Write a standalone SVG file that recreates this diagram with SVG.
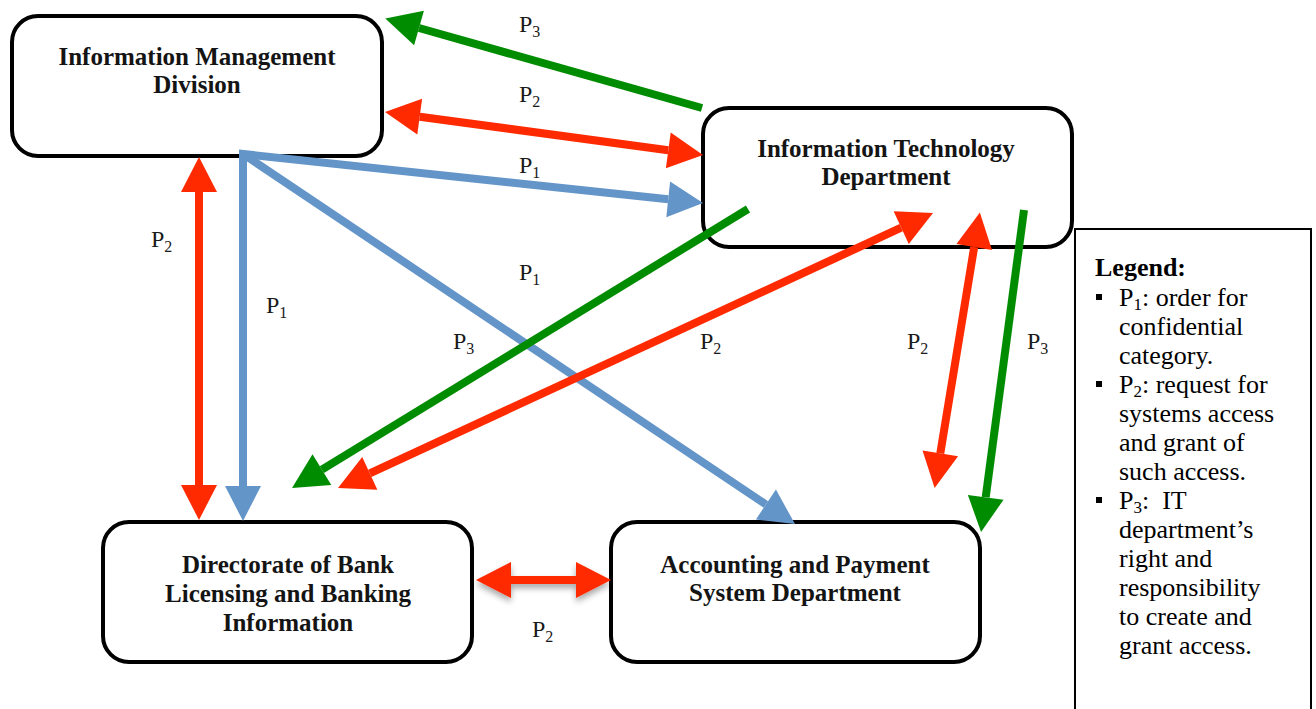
<svg xmlns="http://www.w3.org/2000/svg" width="1316" height="709" viewBox="0 0 1316 709">
<style>
.box{fill:#fff;stroke:#000;stroke-width:4}
.nt{font-family:"Liberation Serif","Times New Roman",serif;font-weight:bold;font-size:25px;fill:#141414;text-anchor:middle}
.lb{font-family:"Liberation Serif","Times New Roman",serif;font-size:24px;fill:#1a1a1a}
.sub{font-size:16px}
.lg{font-family:"Liberation Serif","Times New Roman",serif;font-size:26px;fill:#000}
.lsub{font-size:17px}
.b{stroke:#6495c9;stroke-width:8;fill:none}
.r{stroke:#ff2a00;stroke-width:8;fill:none}
.g{stroke:#008c00;stroke-width:8;fill:none}
</style>
<defs>
<marker id="hb" markerUnits="userSpaceOnUse" markerWidth="36" markerHeight="36" refX="0" refY="18" orient="auto-start-reverse" overflow="visible"><path d="M0,0 L35,18 L0,36 z" fill="#6495c9"/></marker>
<marker id="hr" markerUnits="userSpaceOnUse" markerWidth="36" markerHeight="36" refX="0" refY="18" orient="auto-start-reverse" overflow="visible"><path d="M0,0 L35,18 L0,36 z" fill="#ff2a00"/></marker>
<marker id="hg" markerUnits="userSpaceOnUse" markerWidth="36" markerHeight="36" refX="0" refY="18" orient="auto-start-reverse" overflow="visible"><path d="M0,0 L35,18 L0,36 z" fill="#008c00"/></marker>
<filter id="sh" filterUnits="userSpaceOnUse" x="440" y="540" width="200" height="90"><feDropShadow dx="0" dy="4" stdDeviation="3" flood-color="#000" flood-opacity="0.35"/></filter>
</defs>
<rect width="1316" height="709" fill="#fff"/>

<g id="imd">
<rect class="box" x="12" y="16" width="370" height="140" rx="26"/>
<text class="nt" x="197" y="65">Information Management</text>
<text class="nt" x="197" y="93">Division</text>
</g>
<g id="itd">
<rect class="box" x="703" y="108" width="369" height="139" rx="26"/>
<text class="nt" x="886" y="157">Information Technology</text>
<text class="nt" x="886" y="185">Department</text>
</g>
<g id="dbl">
<rect class="box" x="103" y="522" width="369" height="140" rx="26"/>
<text class="nt" x="288" y="573">Directorate of Bank</text>
<text class="nt" x="288" y="602">Licensing and Banking</text>
<text class="nt" x="288" y="631">Information</text>
</g>
<g id="aps">
<rect class="box" x="611" y="522" width="369" height="140" rx="26"/>
<text class="nt" x="795" y="573">Accounting and Payment</text>
<text class="nt" x="795" y="601">System Department</text>
</g>

<g id="connectors">
<path class="g" d="M702,108 L419,28" marker-end="url(#hg)"/>
<path class="r" d="M419.7,116.7 L668.3,150.3" marker-start="url(#hr)" marker-end="url(#hr)"/>
<path class="b" d="M668.2,199.3 L243,154 L243,486" stroke-linejoin="miter" marker-start="url(#hb)" marker-end="url(#hb)"/>
<path class="b" d="M243,154 L765.9,504.5" marker-end="url(#hb)"/>
<path class="r" d="M199,192 L199,485" marker-start="url(#hr)" marker-end="url(#hr)"/>
<path class="g" d="M748,209 L321.9,469.7" marker-end="url(#hg)"/>
<path class="r" d="M369.8,473.3 L901.2,227.7" marker-start="url(#hr)" marker-end="url(#hr)"/>
<path class="r" d="M974.2,247 L940.3,453.4" marker-start="url(#hr)" marker-end="url(#hr)"/>
<path class="g" d="M1024,210 L985.7,497.3" marker-end="url(#hg)"/>
<g filter="url(#sh)"><path class="r" d="M511,580 L576,580" marker-start="url(#hr)" marker-end="url(#hr)"/></g>
</g>

<g id="labels">
<text class="lb" x="519" y="32">P<tspan class="sub" dy="5">3</tspan></text>
<text class="lb" x="519" y="102">P<tspan class="sub" dy="5">2</tspan></text>
<text class="lb" x="519" y="173">P<tspan class="sub" dy="5">1</tspan></text>
<text class="lb" x="151" y="247">P<tspan class="sub" dy="5">2</tspan></text>
<text class="lb" x="266" y="313">P<tspan class="sub" dy="5">1</tspan></text>
<text class="lb" x="519" y="280">P<tspan class="sub" dy="5">1</tspan></text>
<text class="lb" x="453" y="349">P<tspan class="sub" dy="5">3</tspan></text>
<text class="lb" x="700" y="349">P<tspan class="sub" dy="5">2</tspan></text>
<text class="lb" x="907" y="349">P<tspan class="sub" dy="5">2</tspan></text>
<text class="lb" x="1027" y="349">P<tspan class="sub" dy="5">3</tspan></text>
<text class="lb" x="532" y="637">P<tspan class="sub" dy="5">2</tspan></text>
</g>

<g id="legend">
<rect x="1075" y="229" width="236" height="486" fill="#fff" stroke="#000" stroke-width="2"/>
<text class="lg" x="1095" y="276" font-weight="bold">Legend:</text>
<rect x="1096" y="294" width="6" height="6" fill="#000"/>
<text class="lg" x="1119" y="306">P<tspan class="lsub" dy="4">1</tspan><tspan dy="-4">: order for</tspan></text>
<text class="lg" x="1119" y="335">confidential</text>
<text class="lg" x="1119" y="364">category.</text>
<rect x="1096" y="381" width="6" height="6" fill="#000"/>
<text class="lg" x="1119" y="393">P<tspan class="lsub" dy="4">2</tspan><tspan dy="-4">: request for</tspan></text>
<text class="lg" x="1119" y="422">systems access</text>
<text class="lg" x="1119" y="451">and grant of</text>
<text class="lg" x="1119" y="480">such access.</text>
<rect x="1096" y="497" width="6" height="6" fill="#000"/>
<text class="lg" x="1119" y="509" xml:space="preserve">P<tspan class="lsub" dy="4">3</tspan><tspan dy="-4">:  IT</tspan></text>
<text class="lg" x="1119" y="538">department’s</text>
<text class="lg" x="1119" y="567">right and</text>
<text class="lg" x="1119" y="596">responsibility</text>
<text class="lg" x="1119" y="625">to create and</text>
<text class="lg" x="1119" y="654">grant access.</text>
</g>
</svg>
